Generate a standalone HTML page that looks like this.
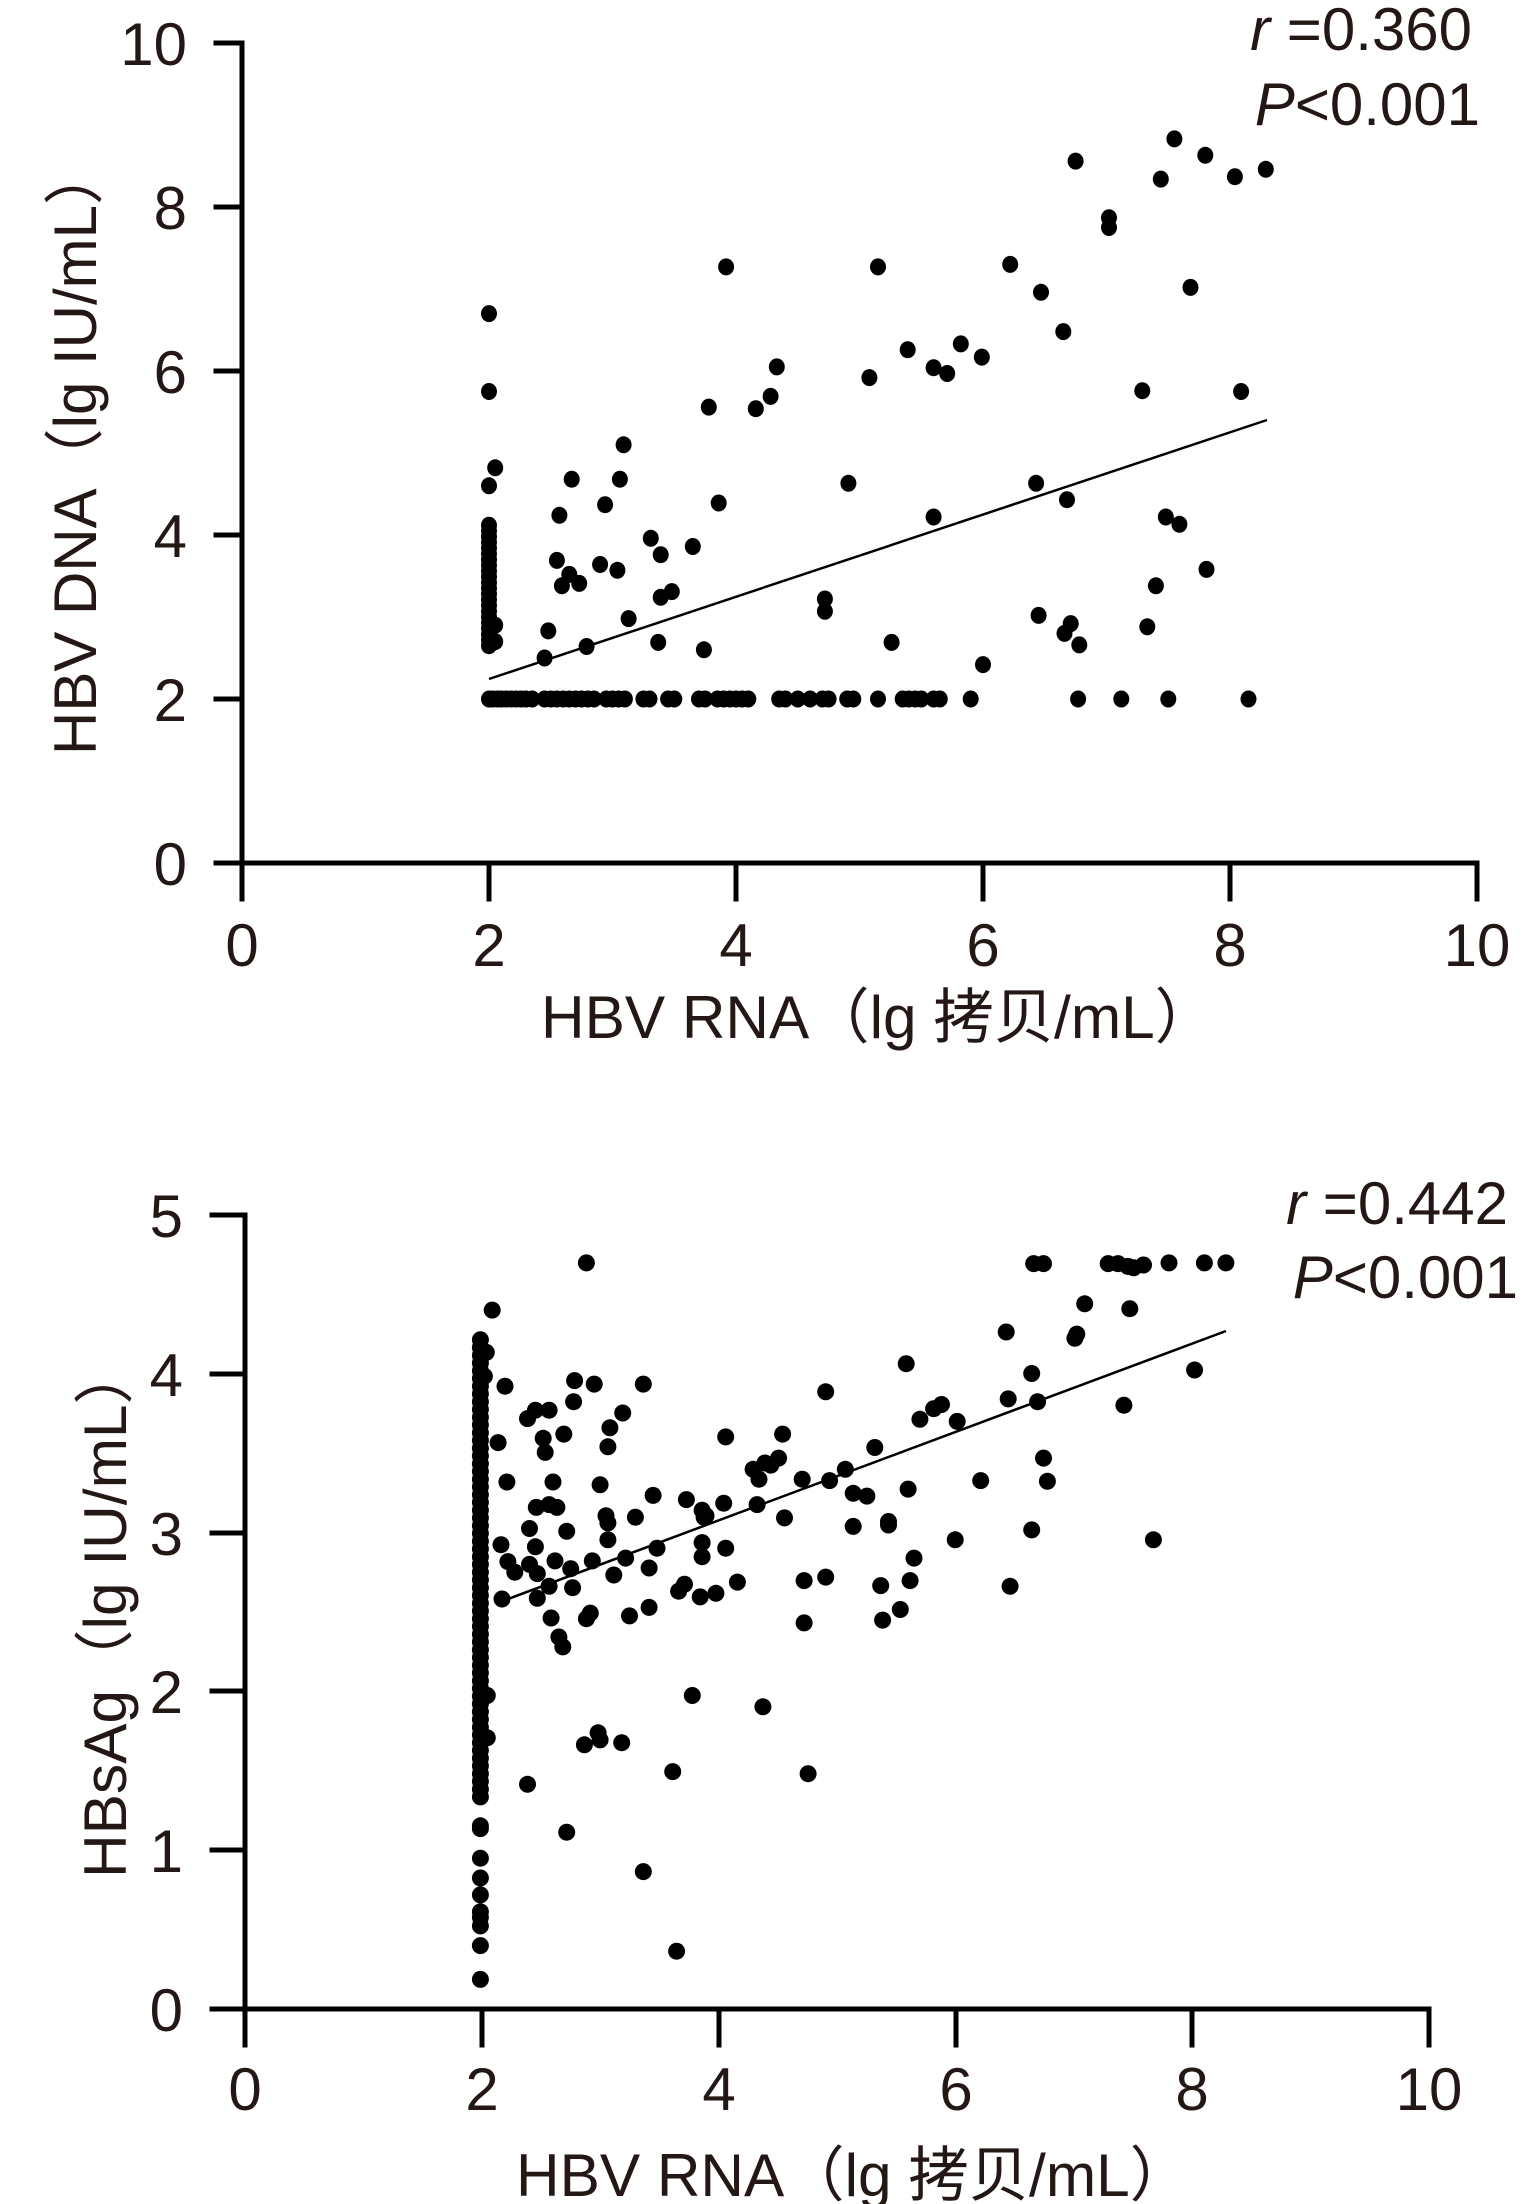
<!DOCTYPE html>
<html><head><meta charset="utf-8"><style>
html,body{margin:0;padding:0;background:#fff;}
svg{display:block;}
text{font-family:"Liberation Sans","Noto Sans CJK SC",sans-serif;fill:#231815;}
</style></head><body>
<svg id="s" width="1538" height="2204" viewBox="0 0 1538 2204" xmlns="http://www.w3.org/2000/svg">
<g stroke="#000" stroke-width="5" fill="none" stroke-linecap="square">
<path d="M242 43 V899 M216 863 H1477 V899 M216 43 H242"/>
<path d="M242 863 H216 M242 699 H216 M242 535 H216 M242 371 H216 M242 207 H216"/>
<path d="M489 863 V899 M736 863 V899 M983 863 V899 M1230 863 V899"/>
<path d="M245 1215 V2045 M212 2009 H1429 V2045 M212 1215 H245"/>
<path d="M245 1850 H212 M245 1691 H212 M245 1533 H212 M245 1374 H212"/>
<path d="M482 2009 V2045 M719 2009 V2045 M956 2009 V2045 M1192 2009 V2045"/>
</g>
<g font-size="60" text-anchor="end">
<text x="187" y="885">0</text><text x="187" y="721">2</text><text x="187" y="557">4</text><text x="187" y="393">6</text><text x="187" y="229">8</text><text x="187" y="65">10</text>
</g>
<g font-size="60" text-anchor="middle">
<text x="242" y="966">0</text><text x="489" y="966">2</text><text x="736" y="966">4</text><text x="983" y="966">6</text><text x="1230" y="966">8</text><text x="1477" y="966">10</text>
</g>
<g font-size="60" text-anchor="end">
<text x="183" y="2031">0</text><text x="183" y="1872">1</text><text x="183" y="1713">2</text><text x="183" y="1555">3</text><text x="183" y="1396">4</text><text x="183" y="1237">5</text>
</g>
<g font-size="60" text-anchor="middle">
<text x="245" y="2110">0</text><text x="482" y="2110">2</text><text x="719" y="2110">4</text><text x="956" y="2110">6</text><text x="1192" y="2110">8</text><text x="1429" y="2110">10</text>
</g>
<text x="541" y="1038" font-size="60" textLength="674" lengthAdjust="spacingAndGlyphs">HBV RNA（lg 拷贝/mL）</text>
<text x="516" y="2196" font-size="60" textLength="674" lengthAdjust="spacingAndGlyphs">HBV RNA（lg 拷贝/mL）</text>
<text transform="translate(96,755) rotate(-90)" font-size="60" textLength="610" lengthAdjust="spacingAndGlyphs">HBV DNA（lg IU/mL）</text>
<text transform="translate(126,1878) rotate(-90)" font-size="60" textLength="534" lengthAdjust="spacingAndGlyphs">HBsAg（lg IU/mL）</text>
<g font-size="60" text-anchor="end">
<text x="1472" y="50"><tspan font-style="italic">r</tspan> =0.360</text>
<text x="1480" y="125"><tspan font-style="italic">P</tspan>&lt;0.001</text>
<text x="1508" y="1224"><tspan font-style="italic">r</tspan> =0.442</text>
<text x="1518" y="1298"><tspan font-style="italic">P</tspan>&lt;0.001</text>
</g>
<g stroke="#000" stroke-width="2.5">
<line x1="489" y1="679" x2="1267" y2="420"/>
<line x1="500" y1="1602" x2="1226" y2="1331"/>
</g>
<g id="d1" fill="#000"></g>
<g id="d2" fill="#000"></g>
</svg>
<script>
(function(){
var NS="http://www.w3.org/2000/svg";
function dot(g,x,y,rx,ry){var e=document.createElementNS(NS,"ellipse");e.setAttribute("cx",x.toFixed(1));e.setAttribute("cy",y.toFixed(1));e.setAttribute("rx",rx);e.setAttribute("ry",ry);g.appendChild(e);}
var g1=document.getElementById("d1");
function p1(x,y){dot(g1,242+x*123.5,863-y*82,8,8.5);}
var pts1=[[3.92,7.27],[5.15,7.27],[6.22,7.3],[6.75,8.56],[7.02,7.87],[7.02,7.75],[7.55,8.83],[7.8,8.63],[8.04,8.37],[8.29,8.46],[7.44,8.34],[6.47,6.96],[6.65,6.48],[7.68,7.02],[7.29,5.76],[8.09,5.75],[5.99,6.17],[5.82,6.33],[5.39,6.26],[5.6,6.04],[5.71,5.97],[5.08,5.92],[4.33,6.05],[4.28,5.69],[4.16,5.54],[3.78,5.56],[3.09,5.1],[3.06,4.68],[2.67,4.68],[2.57,4.24],[2.94,4.37],[3.86,4.39],[4.91,4.63],[6.43,4.63],[6.68,4.43],[5.6,4.22],[7.48,4.22],[7.59,4.13],[7.81,3.58],[7.4,3.38],[3.31,3.96],[3.39,3.76],[3.65,3.86],[2.55,3.69],[2.9,3.64],[3.04,3.57],[2.65,3.52],[2.59,3.38],[2.73,3.41],[3.48,3.31],[3.39,3.24],[4.72,3.22],[4.72,3.07],[3.13,2.98],[2.48,2.83],[6.45,3.02],[6.71,2.92],[7.33,2.88],[6.66,2.8],[6.78,2.66],[5.26,2.69],[2.79,2.64],[3.37,2.69],[3.74,2.6],[2.45,2.5],[6.0,2.42],
[2,6.7],[2,5.75],[2.05,4.82],[2,4.6],[2.05,2.9],[2.05,2.7]];
pts1.forEach(function(p){p1(p[0],p[1]);});
for(var y=2.65;y<=4.12;y+=0.07)p1(2,y);
[2.0,2.03,2.07,2.1,2.14,2.18,2.22,2.26,2.3,2.35,2.45,2.5,2.55,2.6,2.65,2.7,2.75,2.8,2.85,2.95,3.0,3.05,3.1,3.25,3.3,3.45,3.5,3.7,3.75,3.85,3.9,3.95,4.0,4.05,4.1,4.35,4.4,4.5,4.6,4.7,4.75,4.9,4.95,5.15,5.35,5.4,5.45,5.5,5.6,5.65,5.9,6.77,7.12,7.5,8.15].forEach(function(x){p1(x,2);});
var g2=document.getElementById("d2");
function pz(zx,zy){dot(g2,245+(zx-250)/120.7*118.4,2009-(1290-zy)/225.4*158.8,8.5,8.5);}
var pts2=[[598,231],[502,298],[515,406],[508,486],[517,542],[511,631],[518,655],[525,670],[512,708],[538,452],[546,440],[560,440],[586,398],[606,403],[656,403],[635,444],[622,465],[620,492],[554,480],[556,500],[575,474],[585,428],[612,546],[564,542],[547,578],[560,574],[568,578],[540,608],[546,634],[540,659],[548,672],[548,707],[566,654],[560,690],[582,665],[578,612],[584,692],[562,735],[570,762],[574,776],[604,654],[618,590],[620,600],[620,624],[626,674],[598,736],[602,728],[642,732],[638,650],[648,592],[662,664],[670,636],[662,720],[666,561],[700,567],[698,687],[692,697],[714,705],[716,582],[720,590],[716,628],[716,648],[730,700],[740,636],[738,572],[740,478],[752,684],[718,592],[772,574],[774,538],[768,524],[780,515],[786,518],[794,508],[800,593],[798,474],[818,538],[820,682],[820,742],[842,414],[842,677],[846,540],[862,524],[870,558],[870,605],[884,562],[892,493],[898,689],[900,738],[906,603],[906,598],[918,723],[928,682],[926,552],[932,650],[924,374],[938,453],[952,438],[960,432],[976,456],[974,624],[1000,540],[1026,329],[1028,424],[1030,690],[1052,388],[1052,610],[1058,428],[1064,508],[1068,541],[1096,338],[1098,332],[1106,289],[1146,433],[1152,296],[1176,624],[1218,383],[1054,232],[1064,232],[1130,232],[1140,232],[1156,238],[1166,234],[1192,231],[1228,231],[1250,231],[1150,236],
[706,845],[778,861],[596,915],[610,898],[612,908],[634,912],[686,953],[824,956],[538,971],[578,1039],[656,1095],[690,1208],[497,845],[497,905],[494,392],[496,358]];
pts2.forEach(function(p){pz(p[0],p[1]);});
for(var zy=340;zy<=990;zy+=11)pz(490,zy);
[1030,1034,1076,1104,1128,1152,1160,1172,1200,1248].forEach(function(zy){pz(490,zy);});
})();
</script>
</body></html>
